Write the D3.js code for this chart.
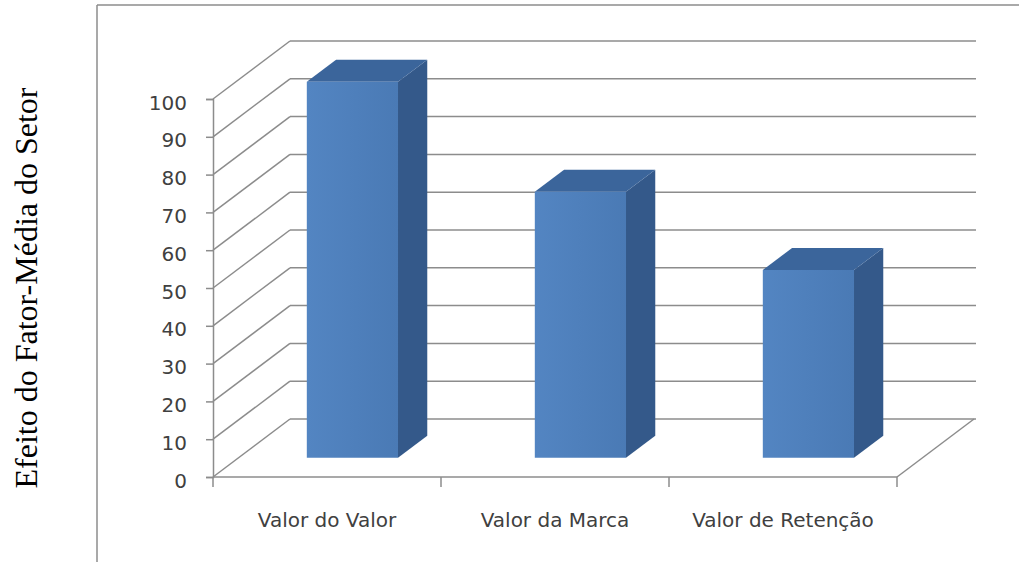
<!DOCTYPE html>
<meta charset="utf-8">
<style>
  body { margin: 0; background: #fff; }
  .grid line, .frame line { stroke: #8c8c8c; stroke-width: 1.5px; }
  .tick-label { font: 20px "DejaVu Sans", sans-serif; fill: #404040; }
  .title { font: 32px "Liberation Serif", "Times New Roman", serif; fill: #000; }
</style>
<body>
<script src="https://d3js.org/d3.v7.min.js"></script>
<script>

var categories = ["Valor do Valor", "Valor da Marca", "Valor de Retenção"];
var values = [99.5, 70.4, 49.7];
var yTicks = [0, 10, 20, 30, 40, 50, 60, 70, 80, 90, 100];
var yTitle = "Efeito do Fator-Média do Setor";

var width = 1019,
    height = 562;

// depth of the 3d box (full depth offset)
var depthX = 77,
    depthY = 58;

var svg = d3.select("body").append("svg")
  .attr("width", width)
  .attr("height", height);

var defs = svg.append("defs");
var grad = defs.append("linearGradient").attr("id", "front");
grad.append("stop").attr("offset", "0%").attr("stop-color", "#5385c2");
grad.append("stop").attr("offset", "100%").attr("stop-color", "#4a7ab5");

var x = d3.scaleBand()
  .domain(categories)
  .range([213, 897])
  .paddingInner(0.6)
  .paddingOuter(0.3);

var y = d3.scaleLinear()
  .domain([0, 100])
  .range([477, 99]);

function pt(px, v, d) {
  return [px + d * depthX, y(v) - d * depthY];
}

// chart frame
var frame = svg.append("g").attr("class", "frame");
frame.append("line").attr("x1", 97).attr("y1", 5).attr("x2", width + 5).attr("y2", 5);
frame.append("line").attr("x1", 97).attr("y1", 5).attr("x2", 97).attr("y2", height + 5);

// back wall + side wall gridlines
var grid = svg.append("g").attr("class", "grid");
grid.selectAll(".back")
  .data(yTicks)
  .enter().append("line")
    .attr("x1", function(d){ return pt(213, d, 1)[0]; })
    .attr("y1", function(d){ return pt(213, d, 1)[1]; })
    .attr("x2", function(d){ return pt(899, d, 1)[0]; })
    .attr("y2", function(d){ return pt(899, d, 1)[1]; });

grid.selectAll(".side")
  .data(yTicks)
  .enter().append("line")
    .attr("x1", function(d){ return pt(213, d, 0)[0]; })
    .attr("y1", function(d){ return pt(213, d, 0)[1]; })
    .attr("x2", function(d){ return pt(213, d, 1)[0]; })
    .attr("y2", function(d){ return pt(213, d, 1)[1]; });

// floor right edge
grid.append("line")
  .attr("x1", 897).attr("y1", y(0))
  .attr("x2", pt(897, 0, 1)[0]).attr("y2", pt(897, 0, 1)[1]);

// bars
var d0 = 0.33, d1 = 0.71;
var bars = svg.selectAll(".bar")
  .data(categories.map(function(c, i){ return {cat: c, val: values[i]}; }))
  .enter().append("g");

bars.append("path")
  .attr("fill", "#34598a")
  .attr("d", function(d){
    var xr = x(d.cat) + x.bandwidth();
    var p = [pt(xr, 0, d0), pt(xr, 0, d1), pt(xr, d.val, d1), pt(xr, d.val, d0)];
    return "M" + p.join("L") + "Z";
  });

bars.append("path")
  .attr("fill", "#3b659b")
  .attr("d", function(d){
    var xl = x(d.cat), xr = xl + x.bandwidth();
    var p = [pt(xl, d.val, d0), pt(xl, d.val, d1), pt(xr, d.val, d1), pt(xr, d.val, d0)];
    return "M" + p.join("L") + "Z";
  });

bars.append("path")
  .attr("fill", "url(#front)")
  .attr("d", function(d){
    var xl = x(d.cat), xr = xl + x.bandwidth();
    var p = [pt(xl, 0, d0), pt(xr, 0, d0), pt(xr, d.val, d0), pt(xl, d.val, d0)];
    return "M" + p.join("L") + "Z";
  });

// y axis
var yAxis = svg.append("g")
  .attr("transform", "translate(213,0)")
  .call(d3.axisLeft(y).tickValues(yTicks).tickSize(7).tickPadding(19));
yAxis.select(".domain").attr("stroke", "#8c8c8c").attr("stroke-width", 1.5);
yAxis.selectAll(".tick line").attr("stroke", "#8c8c8c").attr("stroke-width", 1.5);
yAxis.selectAll(".tick text")
  .attr("class", "tick-label")
  .attr("dy", "0.5em")
  .style("font", null);

// x axis
var xAxisG = svg.append("g").attr("class", "grid");
xAxisG.append("line").attr("x1", 213).attr("x2", 897).attr("y1", y(0)).attr("y2", y(0));
var bounds = [213].concat(categories.map(function(c){ return x(c) + x.bandwidth() + x.step() * 0.3; }));
xAxisG.selectAll(".xt")
  .data(bounds)
  .enter().append("line")
    .attr("x1", function(d){ return d; }).attr("x2", function(d){ return d; })
    .attr("y1", y(0)).attr("y2", y(0) + 10);

svg.selectAll(".xlabel")
  .data(categories)
  .enter().append("text")
    .attr("class", "tick-label")
    .attr("text-anchor", "middle")
    .attr("x", function(d){ return x(d) + x.bandwidth() / 2; })
    .attr("y", 527)
    .text(function(d){ return d; });

// y title
svg.append("text")
  .attr("class", "title")
  .attr("text-anchor", "middle")
  .attr("transform", "translate(37,288) rotate(-90)")
  .text(yTitle);

</script>
